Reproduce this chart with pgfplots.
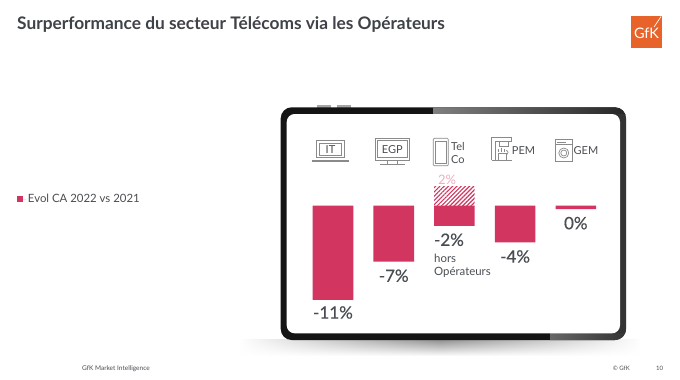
\documentclass[border=0pt]{standalone}
\usepackage{pgfplots}
\pgfplotsset{compat=1.18}
\usepackage{fontspec}
\setmainfont{Lato}
\newfontfamily\lbold[FakeBold=0.5]{Lato}
\usetikzlibrary{patterns.meta,fadings}
\definecolor{barc}{HTML}{D13560}
\definecolor{txt}{HTML}{4A4E53}
\definecolor{ico}{HTML}{8A8A8A}
\definecolor{gfk}{HTML}{E8632A}
\tikzfading[name=sidefade,left color=transparent!100,right color=transparent!100,middle color=transparent!0]
\begin{document}
\begin{tikzpicture}[x=1pt,y=-1pt]
\path[use as bounding box,fill=white] (0,0) rectangle (680,380);
% title and footer
\node[anchor=base west,inner sep=0,text=txt!85!black,font=\fontsize{17.3}{18}\selectfont\bfseries] at (17,29) {Surperformance du secteur Télécoms via les Opérateurs};
\node[anchor=base west,inner sep=0,text=txt,font=\fontsize{6.5}{7}\selectfont] at (82,370.5) {GfK Market Intelligence};
\node[anchor=base west,inner sep=0,text=txt,font=\fontsize{6}{7}\selectfont] at (612.7,370.5) {© GfK};
\node[anchor=base west,inner sep=0,text=txt,font=\fontsize{6}{7}\selectfont] at (656,370.5) {10};
% logo
\fill[gfk] (630.7,16) rectangle (662.3,48);
\node[text=white,inner sep=0,font=\fontsize{14.5}{15}\selectfont] at (646.5,33.5) {GfK};
\draw[white,line width=0.7pt] (661,16.5) -- (654,27);
% shadow
\shade[top color=black!45,bottom color=white,path fading=sidefade] (240,339) rectangle (640,356);
% tablet
\fill[gray!70] (317,105) rectangle (331,108);
\fill[gray!70] (337,105) rectangle (351,108);
\fill[black!92,rounded corners=11pt] (280.7,107.3) rectangle (626,340);
\begin{scope}
\clip[rounded corners=11pt] (280.7,107.3) rectangle (626,340);
\shade[left color=black!50,middle color=black!40,right color=black!85] (433,107) rectangle (626,114);
\fill[black!80] (612,114) rectangle (627,333);
\shade[left color=black!60,right color=black!80] (550,333) rectangle (627,341);
\end{scope}
\fill[white,rounded corners=8pt] (286.7,114) rectangle (620,333.3);
% icons
\begin{scope}[draw=ico,line width=0.7pt]
\draw (316.7,140.7) rectangle (344,157.7);
\draw (319,143) rectangle (341.5,155.5);
\draw[line width=1.2pt] (311.5,161) -- (349,161);
\draw (375,138.3) rectangle (409.3,160);
\draw (377,140.5) rectangle (407,157.5);
\draw (387,160) -- (387,163.5) (397,160) -- (397,163.5);
\draw (380,164) -- (405,164);
\draw[rounded corners=1pt] (433.3,138.3) rectangle (448.3,165.7);
\draw (435,141) rectangle (446.6,163);
\draw (491.7,160) -- (491.7,137) -- (511.7,137) -- (511.7,141) -- (495,141) -- (495,160);
\draw (499,141) rectangle (508,146);
\draw (498,149) -- (498,152) (501,147.5) -- (501,152) (504,149) -- (504,152);
\draw (498,153) rectangle (506,160);
\draw (506,154.5) arc[start angle=90,end angle=-90,radius=2];
\draw[line width=1.2pt] (491.7,160.7) -- (511.7,160.7);
\draw (555,139) rectangle (572.7,161.7);
\draw (555,144.5) -- (572.7,144.5);
\draw (563.8,153) circle (5);
\draw (563.8,153) circle (3);
\draw (557,142) -- (566,142);
\end{scope}
\begin{scope}[every node/.style={inner sep=0,text=txt,font=\fontsize{11}{12}\selectfont}]
\node at (330.5,150) {IT};
\node at (392.3,150) {EGP};
\node[anchor=west] at (451,146) {Tel};
\node[anchor=west] at (451,159.5) {Co};
\node at (523.5,150.5) {PEM};
\node at (586,150.5) {GEM};
\end{scope}
\node[anchor=base west,inner sep=0,text=txt,font=\fontsize{11.4}{12}\selectfont] at (434,262) {hors};
\node[anchor=base west,inner sep=0,text=txt,font=\fontsize{11.4}{12}\selectfont] at (434,275) {Opérateurs};
% chart
\coordinate (A) at (302.65,308.3);
\begin{axis}[
  at={(A)},anchor=south west,
  scale only axis,width=303.5pt,height=128.25pt,
  xmin=-0.5,xmax=4.5,ymin=-12,ymax=3,
  axis lines=none,clip=false,
  ybar,bar width=40.6pt,bar shift=0pt,
  legend style={at={(-0.942,0.852)},anchor=west,draw=none,fill=none,inner sep=0pt,
    font=\fontsize{11.4}{12}\selectfont,text=txt,
    legend cell align=left},
  legend image code/.code={\path (0pt,0pt) -- (9pt,0pt);\fill[barc] (0pt,-3pt) rectangle (6pt,3pt);},
]
\addplot[fill=barc,draw=none] coordinates {(0,-11) (1,-6.55) (2,-2.35) (3,-4.3) (4,-0.4)};
\addlegendentry{Evol CA 2022 vs 2021}
\addplot[forget plot,draw=none,pattern={Lines[angle=45,distance=3pt,line width=1.1pt]},pattern color=barc]
  coordinates {(2,2.3)};
% labels
\addplot[forget plot,draw=none,fill=none,nodes near coords,point meta=explicit symbolic,
  every node near coord/.append style={anchor=center,yshift=-14pt,inner sep=0,text=txt,font=\lbold\fontsize{17}{18}\selectfont}]
  coordinates {(0,-10.85)[-11\%] (1,-6.55)[-7\%] (1.91,-2.35)[-2\%] (3,-4.3)[-4\%] (4,-0.4)[0\%]};
\addplot[forget plot,draw=none,fill=none,nodes near coords,point meta=explicit symbolic,
  every node near coord/.append style={anchor=center,yshift=6pt,inner sep=0,text=barc!40!white,font=\fontsize{13}{14}\selectfont}]
  coordinates {(1.88,2.3)[2\%]};
\end{axis}
\end{tikzpicture}
\end{document}
